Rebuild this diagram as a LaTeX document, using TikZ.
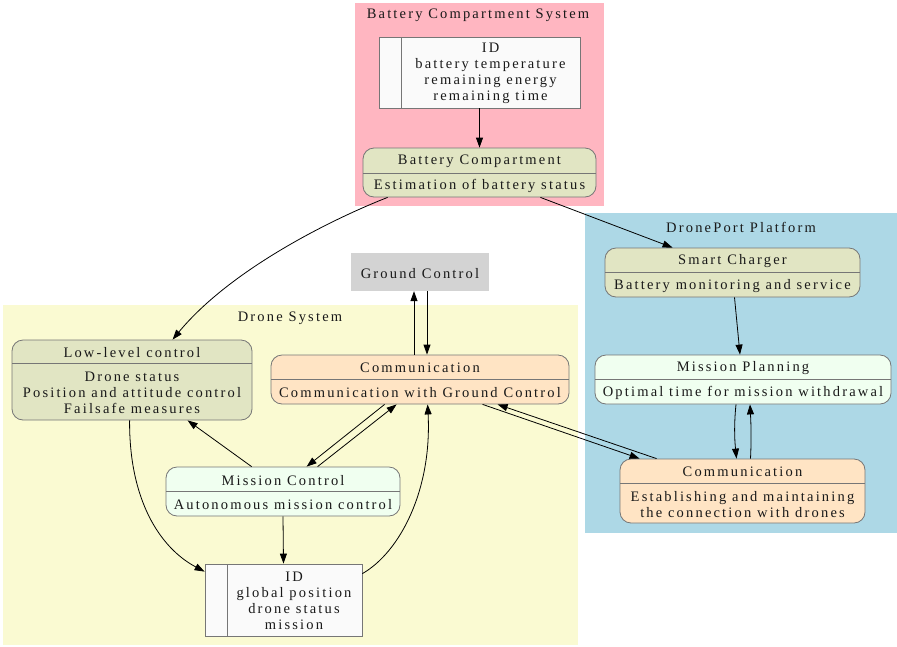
\documentclass[tikz,border=0pt]{standalone}
\usepackage{fontspec}
\setmainfont{Liberation Serif}[LetterSpace=15]
\usetikzlibrary{arrows.meta,calc}

\definecolor{clpink}{HTML}{FFB6C1}
\definecolor{clblue}{HTML}{ADD8E6}
\definecolor{clyellow}{HTML}{FAFAD2}
\definecolor{gcgray}{HTML}{D3D3D3}
\definecolor{olivefill}{HTML}{E1E5C3}
\definecolor{commfill}{HTML}{FFE4C4}
\definecolor{missfill}{HTML}{F0FFF0}
\definecolor{recfill}{HTML}{FAFAFA}
\definecolor{bordercol}{HTML}{767676}

% component box: name, x1, y1, x2, y2, divider y, fill, heading, body
\newcommand{\compbox}[9]{%
  \node[compshape, fill=#7, minimum width={(#4-#2)*1pt}, minimum height={(#5-#3)*1pt}]
    (#1) at ({(#2+#4)/2},{(#3+#5)/2}) {};
  \draw[divline] (#2,#6) -- (#4,#6);
  \node[lbl] (#1-head) at ({(#2+#4)/2},{(#3+#6)/2}) {#8};
  \node[lbl] (#1-body) at ({(#2+#4)/2},{(#6+#5)/2}) {#9};
}

\begin{document}
\begin{tikzpicture}[x=1pt,y=-1pt,
  lbl/.style={inner sep=0pt, align=center, yshift=-1.2pt, text=black!90, font=\fontsize{14.5}{16}\selectfont},
  compshape/.style={draw=bordercol, line width=0.8pt, rounded corners=11pt, inner sep=0pt},
  recshape/.style={draw=bordercol, line width=0.8pt, fill=recfill, inner sep=0pt},
  divline/.style={draw=bordercol, line width=0.8pt},
  edge/.style={draw=black, line width=0.8pt, -{Triangle[length=10pt,width=7pt]}}]
\useasboundingbox (0,0) rectangle (897,646);
\fill[white] (0,0) rectangle (897,646);

% clusters
\fill[clpink] (355,3) rectangle (604,206);
\node[lbl] (bcs-title) at (478,14) {Battery Compartment System};
\fill[clblue] (585,213) rectangle (897,533);
\node[lbl] (dpp-title) at (741,226) {DronePort Platform};
\fill[clyellow] (3,305) rectangle (578,645);
\node[lbl] (ds-title) at (290,317) {Drone System};

% ground control
\node[fill=gcgray, minimum width=138pt, minimum height=38pt, inner sep=0pt] (gc) at (420,272) {};
\node[lbl] (gc-text) at (420,272) {Ground Control};

% battery record
\node[recshape, minimum width=201pt, minimum height=71pt] (bid) at (479.5,72.5) {};
\draw[divline] (401,37) -- (401,108);
\node[lbl] (bid-text) at (490.5,72.5) {ID\\battery temperature\\remaining energy\\remaining time};

% drone record
\node[recshape, minimum width=157pt, minimum height=72pt] (did) at (283.5,600) {};
\draw[divline] (227,564) -- (227,636);
\node[lbl] (did-text) at (294,600) {ID\\global position\\drone status\\mission};

% components
\compbox{bc}{363}{148}{596}{197}{173}{olivefill}{Battery Compartment}{Estimation of battery status}
\compbox{sc}{605}{248}{860}{297}{272}{olivefill}{Smart Charger}{Battery monitoring and service}
\compbox{mp}{595}{355}{891}{404}{379}{missfill}{Mission Planning}{Optimal time for mission withdrawal}
\compbox{dpc}{620}{459}{865}{523}{483}{commfill}{Communication}{Establishing and maintaining\\the connection with drones}
\compbox{ll}{12}{340}{252}{420}{363}{olivefill}{Low-level control}{Drone status\\Position and attitude control\\Failsafe measures}
\compbox{dc}{271}{355}{569}{404}{379}{commfill}{Communication}{Communication with Ground Control}
\compbox{mc}{166}{467}{400}{516}{491}{missfill}{Mission Control}{Autonomous mission control}

% connectors
\draw[edge] (bid.south) -- (bc.north);
\draw[edge] ([xshift=25pt]bc.south west) .. controls (330,220) and (230,270) .. ([xshift=161pt]ll.north west);
\draw[edge] ([xshift=-56pt]bc.south east) -- ([xshift=68pt]sc.north west);
\draw[edge] ([xshift=2pt]sc.south) -- ([xshift=-3pt]mp.north);
\draw[edge] ([xshift=-7pt]mp.south) .. controls +(-2,20) and +(-2,-20) .. ([xshift=-6pt]dpc.north);
\draw[edge] ([xshift=8pt]dpc.north) .. controls +(1,-20) and +(1,20) .. ([xshift=7pt]mp.south);
\draw[edge] ([xshift=-6pt]dc.north) -- ([xshift=-6pt]gc.south);
\draw[edge] ([xshift=7pt]gc.south) -- ([xshift=7pt]dc.north);
\draw[edge] ([xshift=212pt]dc.south west) -- ([xshift=20pt]dpc.north west);
\draw[edge] ([xshift=37pt]dpc.north west) -- ([xshift=227pt]dc.south west);
\draw[edge] ([xshift=114pt]dc.south west) -- ([xshift=141pt]mc.north west);
\draw[edge] ([xshift=152pt]mc.north west) -- ([xshift=126pt]dc.south west);
\draw[edge] ([xshift=86pt]mc.north west) -- ([xshift=176pt]ll.south west);
\draw[edge] (mc.south) -- (did.north);
\draw[edge] ([xshift=118pt]ll.south west) .. controls (129,500) and (160,548) .. ([yshift=-8pt]did.north west);
\draw[edge] ([yshift=-10pt]did.north east) .. controls (400,552) and (432,490) .. ([xshift=157pt]dc.south west);
\end{tikzpicture}
\end{document}
